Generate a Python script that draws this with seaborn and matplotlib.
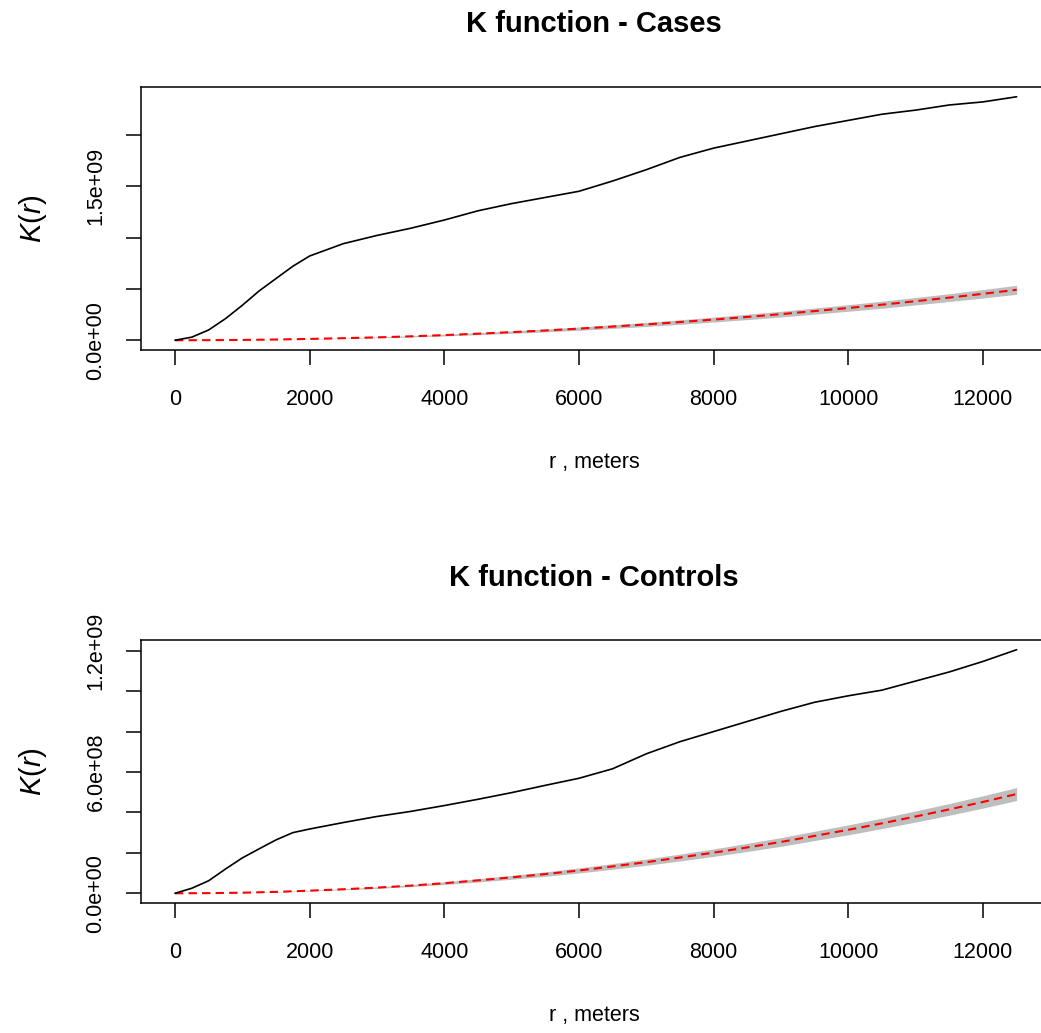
import numpy as np
import matplotlib
matplotlib.use('Agg')
import matplotlib.pyplot as plt
import seaborn as sns

# distances (m) where the observed K curves were read
r_obs = [0, 250, 500, 750, 1000, 1250, 1500, 1750, 2000, 2500, 3000, 3500, 4000,
         4500, 5000, 5500, 6000, 6500, 7000, 7500, 8000, 8500, 9000, 9500, 10000,
         10500, 11000, 11500, 12000, 12500]

# observed K(r), cases (x 1e9)
k_cases = [0.0, 0.03, 0.10, 0.21, 0.34, 0.48, 0.60, 0.72, 0.82, 0.94, 1.02, 1.09, 1.17,
           1.26, 1.33, 1.39, 1.45, 1.55, 1.66, 1.78, 1.87, 1.94, 2.01, 2.08, 2.14,
           2.20, 2.24, 2.29, 2.32, 2.37]

# observed K(r), controls (x 1e8)
k_controls = [0.0, 0.25, 0.62, 1.20, 1.75, 2.20, 2.64, 3.00, 3.18, 3.50, 3.80, 4.05, 4.34,
              4.65, 4.98, 5.34, 5.69, 6.16, 6.90, 7.50, 8.00, 8.50, 9.00, 9.45, 9.77,
              10.05, 10.50, 10.95, 11.47, 12.05]

# theoretical (CSR) curve and envelope half width, read every 500 m
r_env = [0, 500, 1000, 1500, 2000, 2500, 3000, 3500, 4000, 4500, 5000, 5500, 6000,
         6500, 7000, 7500, 8000, 8500, 9000, 9500, 10000, 10500, 11000, 11500, 12000, 12500]
k_theo = [0.0, 0.008, 0.03, 0.07, 0.13, 0.20, 0.28, 0.38, 0.50, 0.64, 0.79, 0.95, 1.13,
          1.33, 1.54, 1.77, 2.01, 2.27, 2.54, 2.84, 3.14, 3.46, 3.80, 4.15, 4.52, 4.91]  # x 1e8
half_cases = [0.0, 0.02, 0.05, 0.1, 0.15, 0.25, 0.4, 0.6, 0.8, 1.0, 1.2, 1.4, 1.6,
              1.8, 2.0, 2.2, 2.4, 2.6, 2.8, 3.0, 3.2, 3.4, 3.6, 3.8, 4.1, 4.4]  # x 1e7
half_controls = [0.0, 0.02, 0.05, 0.1, 0.15, 0.25, 0.35, 0.5, 0.65, 0.8, 0.95, 1.1, 1.25,
                 1.4, 1.55, 1.7, 1.85, 2.0, 2.15, 2.3, 2.45, 2.6, 2.75, 2.9, 3.05, 3.2]  # x 1e7

titles = ['K function - Cases', 'K function - Controls']

sns.set_style('white')
plt.rcParams['font.family'] = ['Liberation Sans', 'DejaVu Sans']
plt.rcParams['text.color'] = 'black'
plt.rcParams['axes.labelcolor'] = 'black'
plt.rcParams['mathtext.fontset'] = 'custom'
plt.rcParams['mathtext.it'] = 'Liberation Sans:italic'
plt.rcParams['mathtext.rm'] = 'Liberation Sans'

W, H = 1041, 1033
fig = plt.figure(figsize=(W / 100, H / 100), dpi=100)

# axes boxes in pixels: left, top, right, bottom ; title centre y
boxes = [(141.3, 87, 1050.3, 350, 24), (141.3, 640, 1050.3, 903, 578)]

panels = [
    (np.array(k_cases) * 1e9, np.array(half_cases) * 1e7, (-0.095e9, 2.465e9),
     [0, 5e8, 1e9, 1.5e9, 2e9], ['0.0e+00', '', '', '1.5e+09', '']),
    (np.array(k_controls) * 1e8, np.array(half_controls) * 1e7, (-0.048e9, 1.253e9),
     [0, 2e8, 4e8, 6e8, 8e8, 1e9, 1.2e9],
     ['0.0e+00', '', '', '6.0e+08', '', '', '1.2e+09']),
]

theo = np.array(k_theo) * 1e8

for i, (kobs, half, ylim, yt, ytl) in enumerate(panels):
    l, t, r, b, ty = boxes[i]
    ax = fig.add_axes([l / W, 1 - b / H, (r - l) / W, (b - t) / H])
    ax.fill_between(r_env, theo - half, theo + half, color='#BEBEBE', lw=0, zorder=1)
    sns.lineplot(x=r_obs, y=kobs, ax=ax, color='black', lw=1.2, estimator=None, zorder=3)
    sns.lineplot(x=r_env, y=theo, ax=ax, color='#FF0000', lw=1.5, estimator=None,
                 dashes=False, zorder=2).lines[-1].set_dashes((4, 2.5))
    ax.set_xlim(-500, 13000)
    ax.set_ylim(*ylim)
    ax.set_xticks([0, 2000, 4000, 6000, 8000, 10000, 12000])
    ax.set_xticklabels(['0', '2000', '4000', '6000', '8000', '10000', '12000'])
    ax.set_yticks(yt)
    ax.set_yticklabels(ytl, rotation=90, va='center')
    ax.tick_params(axis='both', direction='out', length=11, width=1.1, colors='black',
                   labelsize=15.5, pad=14, bottom=True, left=True)
    ax.tick_params(axis='x', pad=17)
    for s in ax.spines.values():
        s.set_color('black')
        s.set_linewidth(1.1)
    fig.text(594 / W, 1 - ty / H, titles[i], fontsize=21, fontweight='bold',
             ha='center', va='center', color='black')
    ax.set_xlabel('r , meters', fontsize=15.5, labelpad=30)
    ax.set_ylabel('$K(r)$', fontsize=21, labelpad=26)
    ax.xaxis.label.set_position(((594 - l) / (r - l), 0))

fig.savefig('out.png', dpi=100, facecolor='white')
